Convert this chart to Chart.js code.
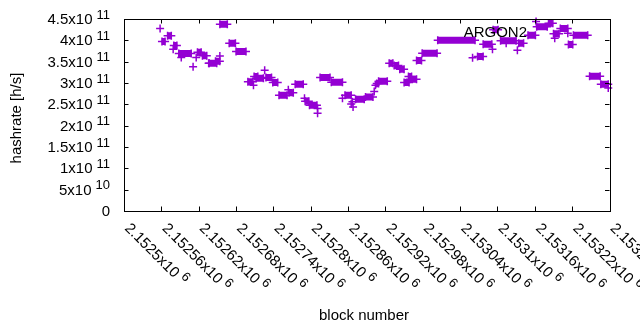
<!DOCTYPE html>
<html lang="en">
<head>
    <meta charset="UTF-8">
    <title>ARGON2 hashrate</title>
    <style>
        body {
            margin: 0;
            padding: 0;
            background: #ffffff;
        }

        #wrap {
            width: 640px;
            height: 330px;
        }
    </style>
</head>

<body>
    <div id="wrap">
        <canvas id="hashChart" width="640" height="330"></canvas>
    </div>

    <script src="https://cdn.jsdelivr.net/npm/chart.js"></script>

    <script>
        // runs of blocks that share one hashrate (drawn as dense rows of crosses)
        const segStart = [2152561, 2152570, 2152580, 2152588, 2152618, 2152626, 2152637, 2152647, 2152654, 2152669,
            2152680, 2152699, 2152709, 2152712, 2152728, 2152739, 2152749, 2152765, 2152775, 2152791,
            2152798, 2152815, 2152833, 2152855, 2152872, 2152888, 2152906, 2152909, 2152926, 2152934,
            2152943, 2152950, 2152957, 2152959, 2152970, 2152979, 2153004, 2153068, 2153077, 2153093,
            2153105, 2153134, 2153149, 2153163, 2153182, 2153190, 2153201, 2153214, 2153222, 2153248, 2153266];
        const segEnd = [2152566, 2152576, 2152585, 2152608, 2152624, 2152633, 2152649, 2152654, 2152666, 2152679,
            2152696, 2152707, 2152715, 2152724, 2152737, 2152747, 2152762, 2152772, 2152788, 2152797,
            2152810, 2152831, 2152851, 2152865, 2152886, 2152900, 2152909, 2152923, 2152932, 2152941,
            2152950, 2152958, 2152962, 2152970, 2152978, 2153003, 2153064, 2153077, 2153091, 2153101,
            2153130, 2153142, 2153161, 2153180, 2153189, 2153199, 2153213, 2153221, 2153245, 2153265, 2153278];
        const segRate = [3.97e11, 4.11e11, 3.88e11, 3.69e11, 3.72e11, 3.64e11, 3.46e11, 3.51e11, 4.375e11, 3.93e11,
            3.74e11, 3.03e11, 3.15e11, 3.11e11, 3.13e11, 3.01e11, 2.71e11, 2.77e11, 2.97e11, 2.57e11,
            2.48e11, 3.13e11, 3.02e11, 2.71e11, 2.62e11, 2.67e11, 2.99e11, 3.04e11, 3.46e11, 3.41e11,
            3.32e11, 3.01e11, 3.15e11, 3.09e11, 3.53e11, 3.70e11, 4.00e11, 3.62e11, 3.91e11, 4.25e11,
            3.99e11, 3.93e11, 4.12e11, 4.32e11, 4.40e11, 4.155e11, 4.28e11, 3.90e11, 4.12e11, 3.16e11, 2.97e11];

        // single blocks
        const ptBlock = [2152558, 2152579, 2152592, 2152611, 2152616, 2152636, 2152654, 2152708, 2152726, 2152764,
            2152790, 2152811, 2152811, 2152851, 2152865, 2152868, 2152867, 2152902, 2152904, 2153060,
            2153092, 2153114, 2153132, 2153162, 2153192, 2153213, 2153278];
        const ptRate = [4.28e11, 3.79e11, 3.60e11, 3.38e11, 3.60e11, 3.46e11, 3.63e11, 2.95e11, 3.30e11, 2.84e11,
            2.64e11, 2.40e11, 2.29e11, 2.64e11, 2.51e11, 2.44e11, 2.56e11, 2.80e11, 2.95e11, 3.59e11,
            3.79e11, 3.93e11, 3.77e11, 4.44e11, 4.05e11, 4.165e11, 2.88e11];

        // ticks
        const xTicks = [2152500, 2152560, 2152620, 2152680, 2152740, 2152800, 2152860, 2152920, 2152980,
            2153040, 2153100, 2153160, 2153220, 2153280];
        const xTickMant = ['2.1525x10', '2.15256x10', '2.15262x10', '2.15268x10', '2.15274x10', '2.1528x10',
            '2.15286x10', '2.15292x10', '2.15298x10', '2.15304x10', '2.1531x10', '2.15316x10', '2.15322x10',
            '2.15328x10'];
        const xTickExp = '6';
        const yTicks = [0, 5e10, 1e11, 1.5e11, 2e11, 2.5e11, 3e11, 3.5e11, 4e11, 4.5e11];
        const yTickMant = ['0', '5x10', '1x10', '1.5x10', '2x10', '2.5x10', '3x10', '3.5x10', '4x10', '4.5x10'];
        const yTickExp = ['', '10', '11', '11', '11', '11', '11', '11', '11', '11'];

        const violet = '#9400d3';
        const font = '"Liberation Sans", Arial, sans-serif';

        const segData = [];
        segStart.forEach((s, i) => {
            segData.push({ x: s, y: segRate[i] });
            segData.push({ x: segEnd[i], y: segRate[i] });
            segData.push({ x: segEnd[i], y: null });
        });
        const ptData = ptBlock.map((b, i) => ({ x: b, y: ptRate[i] }));

        function drawExpText(ctx, mant, exp, x, y, align) {
            ctx.font = '15px ' + font;
            const mw = ctx.measureText(mant).width;
            ctx.font = '13px ' + font;
            const ew = exp ? ctx.measureText(exp).width + 4 : 0;
            let left = align === 'right' ? x - mw - ew : x;
            ctx.textAlign = 'left';
            ctx.textBaseline = 'middle';
            ctx.font = '15px ' + font;
            ctx.fillText(mant, left, y);
            if (exp) {
                ctx.font = '13px ' + font;
                ctx.fillText(exp, left + mw + 4, y - 5);
            }
        }

        const frame = {
            id: 'frame',
            afterDraw(chart) {
                const ctx = chart.ctx;
                const a = chart.chartArea;
                const xs = chart.scales.x;
                const ys = chart.scales.y;
                ctx.save();
                ctx.strokeStyle = '#000';
                ctx.lineWidth = 1;
                ctx.beginPath();
                xTicks.forEach(v => {
                    const px = Math.round(xs.getPixelForValue(v)) + 0.5;
                    ctx.moveTo(px, a.bottom);
                    ctx.lineTo(px, a.bottom - 4.5);
                    ctx.moveTo(px, a.top);
                    ctx.lineTo(px, a.top + 4.5);
                });
                yTicks.forEach(v => {
                    const py = Math.round(ys.getPixelForValue(v)) + 0.5;
                    ctx.moveTo(a.left, py);
                    ctx.lineTo(a.left + 4.5, py);
                    ctx.moveTo(a.right, py);
                    ctx.lineTo(a.right - 4.5, py);
                });
                ctx.stroke();
                ctx.strokeRect(Math.round(a.left) + 0.5, Math.round(a.top) + 0.5,
                    Math.round(a.right - a.left), Math.round(a.bottom - a.top));

                ctx.fillStyle = '#000';
                yTicks.forEach((v, i) => {
                    drawExpText(ctx, yTickMant[i], yTickExp[i], 110, ys.getPixelForValue(v) + 1, 'right');
                });
                xTicks.forEach((v, i) => {
                    ctx.save();
                    ctx.translate(xs.getPixelForValue(v) + 3, 226);
                    ctx.rotate(Math.PI / 4);
                    drawExpText(ctx, xTickMant[i], xTickExp, 0, 0, 'left');
                    ctx.restore();
                });

                ctx.font = '15px ' + font;
                ctx.textAlign = 'center';
                ctx.textBaseline = 'middle';
                ctx.fillText('block number', 364, 316);
                ctx.save();
                ctx.translate(17, 118);
                ctx.rotate(-Math.PI / 2);
                ctx.fillText('hashrate [h/s]', 0, 0);
                ctx.restore();

                ctx.textAlign = 'right';
                ctx.font = '15px ' + font;
                ctx.fillText('ARGON2', 527, 33);
                ctx.restore();
            }
        };

        new Chart(document.getElementById('hashChart'), {
            type: 'scatter',
            data: {
                datasets: [
                    {
                        label: 'ARGON2 runs',
                        data: segData,
                        showLine: true,
                        spanGaps: false,
                        borderColor: violet,
                        backgroundColor: violet,
                        borderWidth: 7,
                        borderCapStyle: 'butt',
                        pointStyle: 'cross',
                        pointRadius: 4,
                        pointBorderWidth: 1.5,
                        pointHoverRadius: 4,
                        clip: false
                    },
                    {
                        label: 'ARGON2',
                        data: ptData,
                        borderColor: violet,
                        backgroundColor: violet,
                        pointStyle: 'cross',
                        pointRadius: 4,
                        pointBorderWidth: 1.5,
                        pointHoverRadius: 4,
                        clip: false
                    }
                ]
            },
            options: {
                responsive: false,
                animation: false,
                events: [],
                layout: { padding: { left: 124, right: 30.5, top: 19, bottom: 119 } },
                scales: {
                    x: { type: 'linear', min: 2152500, max: 2153280, display: false },
                    y: { type: 'linear', min: 0, max: 4.5e11, display: false }
                },
                plugins: {
                    legend: { display: false },
                    tooltip: { enabled: false }
                }
            },
            plugins: [frame]
        });
    </script>
</body>
</html>
